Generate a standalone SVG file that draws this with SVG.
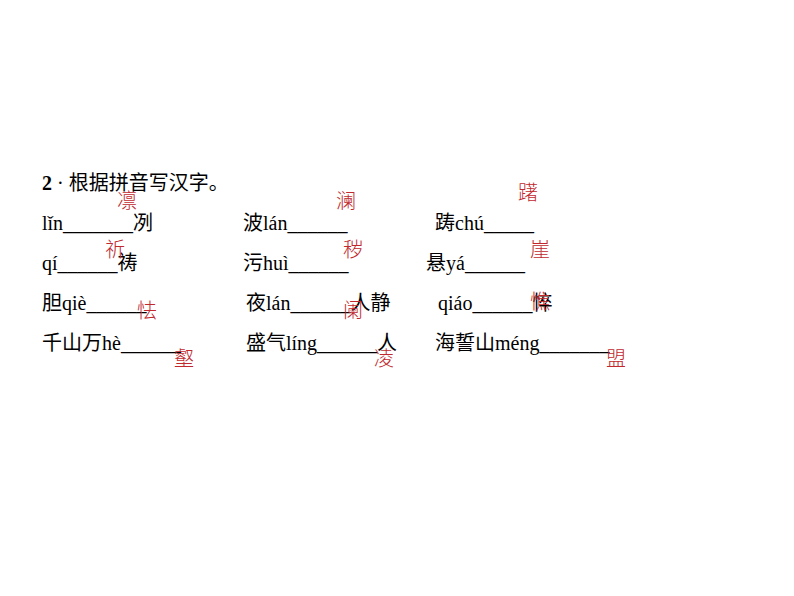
<svg xmlns="http://www.w3.org/2000/svg" width="794" height="596" viewBox="0 0 794 596">
<style>
.t{font-family:"Liberation Serif","Noto Sans CJK SC",serif;font-size:20px;fill:#000}
.a{font-family:"Noto Sans CJK SC",sans-serif;font-size:20px;fill:#c0282d;font-weight:300}
</style>
<rect width="794" height="596" fill="#fff"/>
<g id="title"><text class="t" x="42" y="190"><tspan font-weight="bold">2</tspan> · 根据拼音写汉字。</text></g>
<g id="r1">
<text class="t" x="42" y="230">lǐn_______冽</text><text class="a" x="117" y="208">凛</text>
<text class="t" x="243" y="230">波lán______</text><text class="a" x="336" y="208">澜</text>
<text class="t" x="435" y="230">踌chú_____</text><text class="a" x="518" y="200">躇</text>
</g>
<g id="r2">
<text class="t" x="42" y="270">qí______祷</text><text class="a" x="105" y="257">祈</text>
<text class="t" x="243" y="270">污huì______</text><text class="a" x="343" y="257">秽</text>
<text class="t" x="426" y="270">悬yá______</text><text class="a" x="530" y="257">崖</text>
</g>
<g id="r3">
<text class="t" x="42" y="310">胆qiè______</text><text class="a" x="137" y="318">怯</text>
<text class="t" x="246" y="310">夜lán______人静</text><text class="a" x="343" y="318">阑</text>
<text class="t" x="438" y="310">qiáo______悴</text><text class="a" x="530" y="309">憔</text>
</g>
<g id="r4">
<text class="t" x="42" y="350">千山万hè______</text><text class="a" x="174" y="366">壑</text>
<text class="t" x="246" y="350">盛气líng______人</text><text class="a" x="374" y="366">凌</text>
<text class="t" x="435" y="350">海誓山méng_______</text><text class="a" x="606" y="366">盟</text>
</g>
</svg>
